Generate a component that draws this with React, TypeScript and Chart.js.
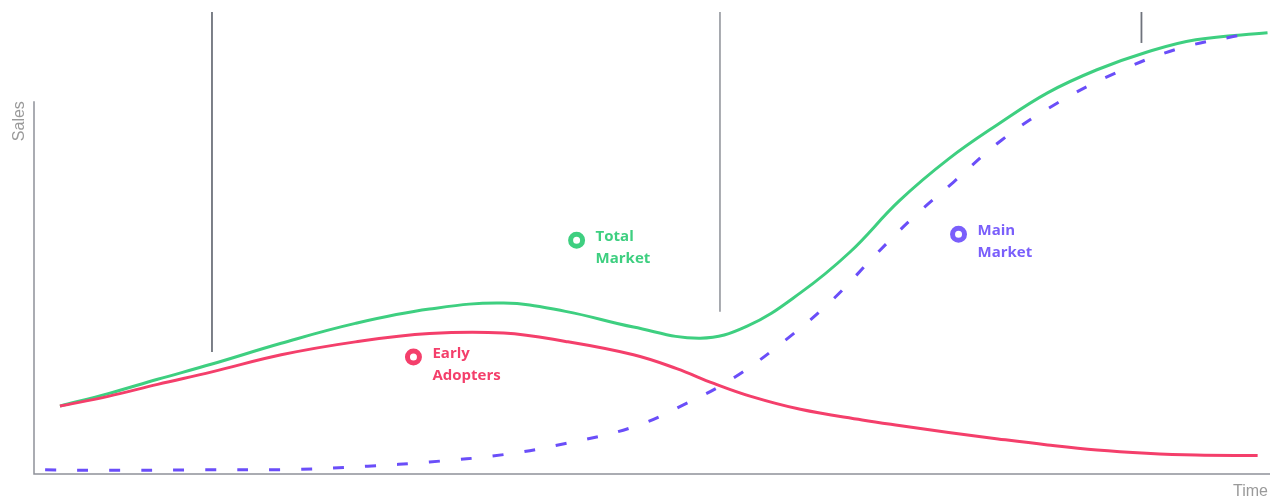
import React, { useEffect, useRef } from "react";
import { Chart, registerables } from "chart.js";

Chart.register(...registerables);

// Time (0-100) / Sales (0-100)
const totalMarket: [number, number][] = [
  [2.1, 14.7], [6, 17.4], [10, 20.5], [14.4, 23.8], [20, 28.3], [26, 32.6],
  [32, 35.7], [38, 37.0], [43, 35.2], [48.5, 31.8], [53.9, 29.4], [57.7, 32.0],
  [62, 39.2], [66, 48.0], [70, 59.1], [74, 68.2], [78, 75.7], [82, 82.5],
  [86, 87.5], [90, 91.3], [94, 94.0], [99.8, 95.5],
];

const earlyAdopters: [number, number][] = [
  [2.1, 14.7], [6, 16.8], [10, 19.4], [14.4, 22.1], [20, 25.8], [26, 28.6],
  [32, 30.4], [38, 30.5], [43, 28.7], [48.5, 25.8], [52, 22.8], [55, 19.6],
  [58, 16.8], [62, 14.0], [67, 11.7], [70, 10.5], [74, 9.0], [78, 7.6],
  [82, 6.3], [86, 5.2], [90, 4.5], [94, 4.1], [99, 4.0],
];

const mainMarket: [number, number][] = [
  [0.9, 0.9], [6, 0.8], [13, 0.9], [21, 1.0], [27, 1.7], [32, 2.6],
  [38, 4.2], [43, 6.6], [48.5, 10.2], [52.5, 14.9], [56.6, 20.8], [60.9, 29.2],
  [64.6, 37.7], [68, 47.2], [71, 55.2], [74.4, 63.2], [78.3, 72.3], [82.8, 80.3],
  [87.5, 86.8], [92.5, 92.0], [97.6, 95.0],
];

// vertical phase markers: [time, sales at lower end]
const markerTimes = [14.4, 55.5, 89.6];
const markerBottoms = [26.4, 35.1, 93.3];
const markerTop = 100;

// series labels: name lines and anchor position
const labelNames = [["Total", "Market"], ["Early", "Adopters"], ["Main", "Market"]];
const labelPos: [number, number][] = [[43.9, 50.6], [30.7, 25.3], [74.8, 51.9]];

const axisYTop = 80.7;
const axisTitleX = "Time";
const axisTitleY = "Sales";

const GREEN = "#3ecf80";
const RED = "#f43f6b";
const PURPLE = "#6a4ef9";
const labelColors = [GREEN, RED, "#7a5ffb"];
const GRAY = "#6f737c";
const AXIS = "#8e9199";

const pts = (a: [number, number][]) => a.map(([x, y]) => ({ x, y }));

export default function App() {
  const ref = useRef<HTMLCanvasElement>(null);
  useEffect(() => {
    document.body.style.margin = "0";
    const labelPlugin = {
      id: "labels",
      afterDatasetsDraw(chart: any) {
        const { ctx, scales } = chart;
        const xs = scales.x, ys = scales.y;
        ctx.save();
        ctx.font = "bold 15px 'Open Sans'";
        ctx.textAlign = "left";
        ctx.textBaseline = "middle";
        labelPos.forEach(([t, s], i) => {
          const px = xs.getPixelForValue(t);
          const py = ys.getPixelForValue(s);
          ctx.fillStyle = labelColors[i];
          ctx.fillText(labelNames[i][0], px + 19, py - 3);
          ctx.fillText(labelNames[i][1], px + 19, py + 19);
        });
        ctx.fillStyle = "#9a9a9a";
        ctx.font = "16px 'Liberation Sans'";
        ctx.textAlign = "right";
        ctx.textBaseline = "alphabetic";
        ctx.fillText(axisTitleX, xs.getPixelForValue(100) - 2, ys.getPixelForValue(0) + 22);
        ctx.translate(xs.getPixelForValue(0) - 10, ys.getPixelForValue(axisYTop));
        ctx.rotate(-Math.PI / 2);
        ctx.textAlign = "right";
        ctx.textBaseline = "alphabetic";
        ctx.fillText(axisTitleY, 0, 0);
        ctx.restore();
      },
    };

    const markerSets = markerTimes.map((t, i) => ({
      data: [{ x: t, y: markerBottoms[i] }, { x: t, y: markerTop }],
      borderColor: GRAY,
      borderWidth: i === 1 ? 1.2 : 1.8,
      pointRadius: 0,
      clip: false,
    }));

    const chart = new Chart(ref.current!, {
      type: "line",
      data: {
        datasets: [
          {
            data: [{ x: 0, y: axisYTop }, { x: 0, y: 0 }, { x: 100, y: 0 }],
            borderColor: AXIS,
            borderWidth: 1.5,
            pointRadius: 0,
            tension: 0,
            clip: false,
          } as any,
          ...markerSets,
          {
            data: pts(mainMarket),
            borderColor: PURPLE,
            borderWidth: 3,
            borderDash: [11, 21],
            pointRadius: 0,
            tension: 0.4,
            clip: false,
          },
          {
            data: pts(earlyAdopters),
            borderColor: RED,
            borderWidth: 3,
            pointRadius: 0,
            tension: 0.4,
            clip: false,
          },
          {
            data: pts(totalMarket),
            borderColor: GREEN,
            borderWidth: 3,
            pointRadius: 0,
            tension: 0.4,
            clip: false,
          },
          {
            data: pts(labelPos),
            showLine: false,
            pointRadius: 6,
            pointBorderWidth: 5,
            pointBackgroundColor: "#ffffff",
            pointBorderColor: labelColors,
            clip: false,
          } as any,
        ],
      },
      options: {
        animation: false,
        responsive: false,
        events: [],
        layout: { autoPadding: false, padding: { left: 34, right: 0, top: 12, bottom: 23 } },
        plugins: { legend: { display: false }, tooltip: { enabled: false } },
        scales: {
          x: { type: "linear", min: 0, max: 100, display: false },
          y: { type: "linear", min: 0, max: 100, display: false },
        },
      },
      plugins: [labelPlugin],
    });
    return () => chart.destroy();
  }, []);
  return <canvas ref={ref} width={1270} height={497} style={{ display: "block" }} />;
}
